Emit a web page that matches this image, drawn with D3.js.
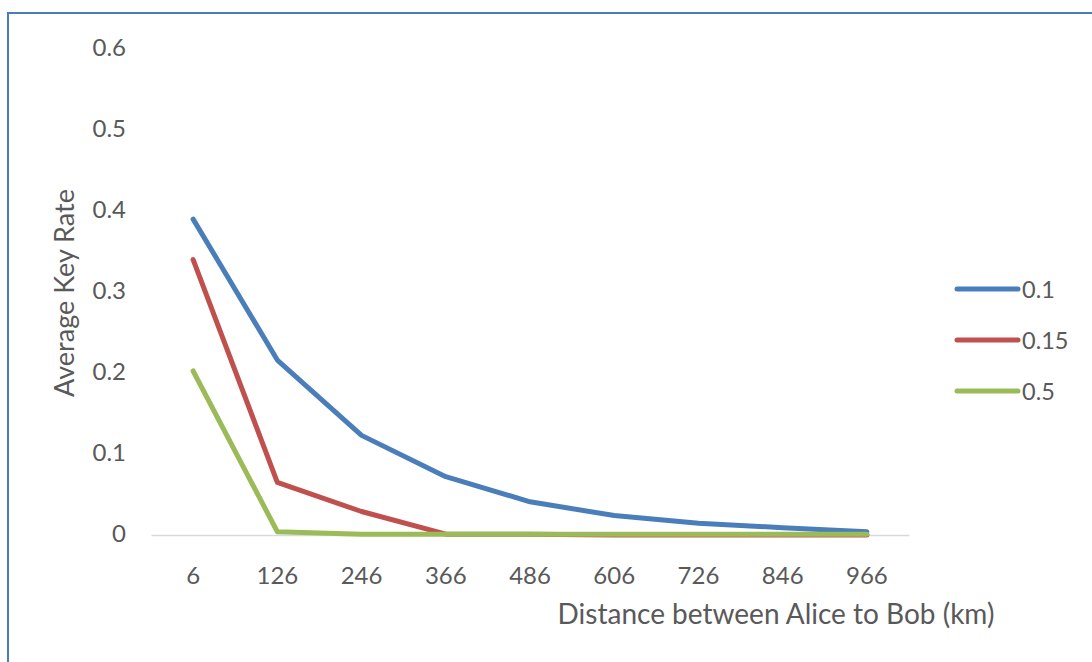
<!DOCTYPE html>
<html>
<head>
<meta charset="utf-8">
<script src="https://cdn.jsdelivr.net/npm/d3@7/dist/d3.min.js"></script>
<style>
  html, body { margin: 0; padding: 0; background: #fff; }
  svg { display: block; font-family: Lato, "Open Sans", sans-serif; }
</style>
</head>
<body>
<svg id="chart" width="1092" height="662"></svg>
<script>
// Distances (km) along the x axis
const distances = [6, 126, 246, 366, 486, 606, 726, 846, 966];

// Average key rate for each parameter setting
const series01  = [0.390, 0.216, 0.123, 0.072, 0.041, 0.024, 0.0145, 0.009, 0.004];
const series015 = [0.340, 0.065, 0.029, 0.001, 0.001, 0, 0, 0, 0];
const series05  = [0.2025, 0.004, 0.001, 0.001, 0.001, 0.001, 0.001, 0.001, 0.001];

const seriesNames  = ["0.1", "0.15", "0.5"];
const seriesColors = ["#4a7ebb", "#c0504d", "#9bbb59"];
const yTicks = [0, 0.1, 0.2, 0.3, 0.4, 0.5, 0.6];

const allSeries = [series01, series015, series05].map((values, i) => ({
  name: seriesNames[i],
  color: seriesColors[i],
  values
}));

const svg = d3.select("#chart");
const textColor = "#595959";

// Outer frame
svg.append("rect")
  .attr("x", 8).attr("y", 13)
  .attr("width", 1100).attr("height", 700)
  .attr("fill", "none")
  .attr("stroke", "#4a7ebb")
  .attr("stroke-width", 2);

const plot = { left: 151, right: 909, top: 49, bottom: 535 };

const x = d3.scaleBand()
  .domain(distances)
  .range([plot.left, plot.right]);

const y = d3.scaleLinear()
  .domain([0, 0.6])
  .range([plot.bottom, plot.top]);

// Y tick labels
const yAxis = d3.axisLeft(y)
  .tickValues(yTicks)
  .tickFormat(d => d === 0 ? "0" : d3.format(".1f")(d))
  .tickSize(0)
  .tickPadding(0);

const yg = svg.append("g")
  .attr("transform", `translate(126,0)`)
  .call(yAxis);
yg.select(".domain").remove();
yg.selectAll("text")
  .attr("fill", textColor)
  .attr("font-size", 24)
  .attr("dy", "0.25em")
  .attr("font-family", "Lato, sans-serif");

// X axis baseline and category labels
const xAxis = d3.axisBottom(x).tickSize(0).tickPadding(0);
const xg = svg.append("g")
  .attr("transform", `translate(0,${plot.bottom})`)
  .call(xAxis);
xg.select(".domain")
  .attr("stroke", "#d9d9d9")
  .attr("stroke-width", 1.5);
xg.selectAll("text")
  .attr("fill", textColor)
  .attr("font-size", 24)
  .attr("font-family", "Lato, sans-serif")
  .attr("dy", "0")
  .attr("y", 49);

// Series lines, the last series drawn on top
const line = d3.line()
  .x((d, i) => x(distances[i]) + x.bandwidth() / 2)
  .y(d => y(d));

svg.append("g").selectAll("path")
  .data(allSeries)
  .join("path")
  .attr("d", s => line(s.values))
  .attr("fill", "none")
  .attr("stroke", s => s.color)
  .attr("stroke-width", 5)
  .attr("stroke-linejoin", "round")
  .attr("stroke-linecap", "round");

// Axis titles
svg.append("text")
  .attr("x", 776).attr("y", 624)
  .attr("text-anchor", "middle")
  .attr("fill", textColor)
  .attr("font-size", 28)
  .text("Distance between Alice to Bob (km)");

svg.append("text")
  .attr("transform", "translate(74,293) rotate(-90)")
  .attr("text-anchor", "middle")
  .attr("fill", textColor)
  .attr("font-size", 27)
  .text("Average Key Rate");

// Legend
const legend = svg.append("g");
const legendY = d3.scalePoint().domain(seriesNames).range([289, 391]);
allSeries.forEach(s => {
  const ly = legendY(s.name);
  legend.append("line")
    .attr("x1", 957).attr("x2", 1018)
    .attr("y1", ly).attr("y2", ly)
    .attr("stroke", s.color)
    .attr("stroke-width", 5)
    .attr("stroke-linecap", "round");
  legend.append("text")
    .attr("x", 1022).attr("y", ly + 8.5)
    .attr("fill", textColor)
    .attr("font-size", 23.5)
    .text(s.name);
});
</script>
</body>
</html>
